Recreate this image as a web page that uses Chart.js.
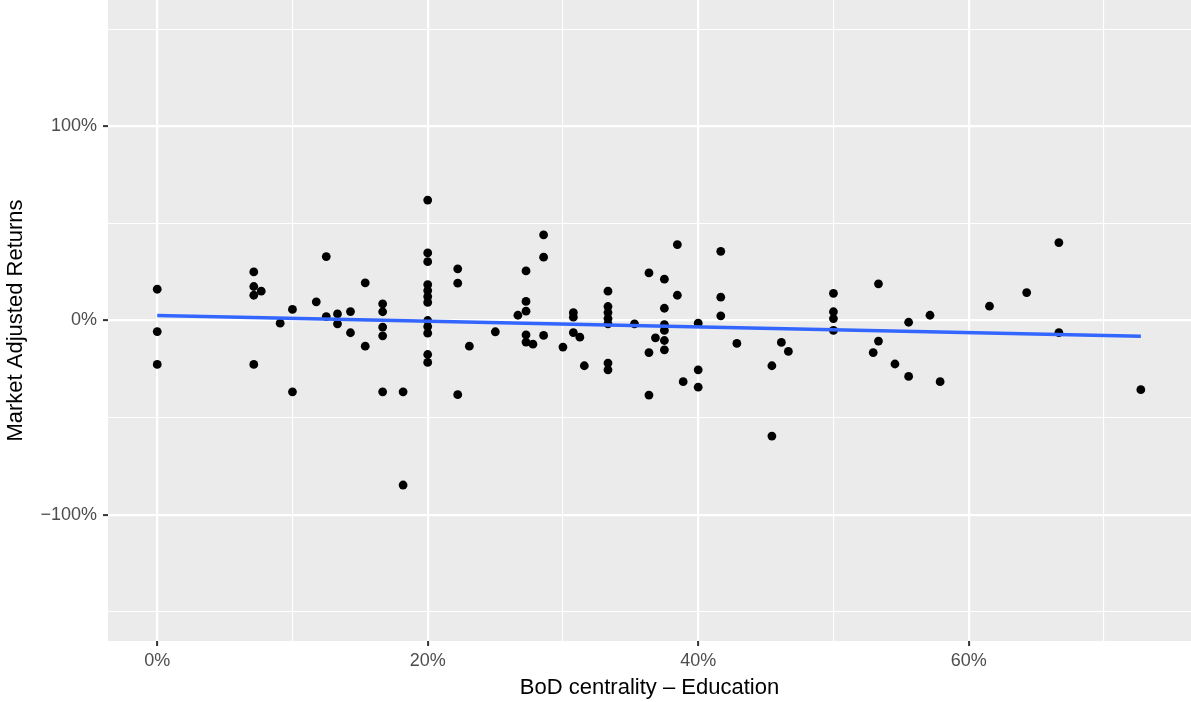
<!DOCTYPE html>
<html>
<head>
<meta charset="utf-8">
<script src="https://cdn.jsdelivr.net/npm/chart.js@4.4.1/dist/chart.umd.min.js"></script>
<style>
html, body { margin:0; padding:0; background:#fff; }
#wrap { width:1191px; height:702px; position:relative; }
</style>
</head>
<body>
<div id="wrap"><canvas id="bod_returns"></canvas></div>
<script>
// BoD centrality (Education), in %
var centrality = [
	0, 0, 0,
	7.14, 7.14, 7.14, 7.14, 7.69, 9.09, 10, 10, 11.76, 12.5, 12.5, 13.33, 13.33, 14.29, 14.29,
	15.38, 15.38, 16.67, 16.67, 16.67, 16.67, 16.67, 18.18, 18.18,
	20, 20, 20, 20, 20, 20, 20, 20, 20, 20, 20, 20,
	22.22, 22.22, 22.22, 23.08, 25, 26.67, 27.27, 27.27, 27.27, 27.27, 27.27, 27.78,
	28.57, 28.57, 28.57, 30, 30.77, 30.77, 30.77, 31.25, 31.58,
	33.33, 33.33, 33.33, 33.33, 33.33, 33.33, 33.33, 35.29, 36.36, 36.36, 36.36, 36.84,
	37.5, 37.5, 37.5, 37.5, 37.5, 37.5, 38.46, 38.46, 38.89, 40, 40, 40,
	41.67, 41.67, 41.67, 42.86, 45.45, 45.45, 46.15, 46.67,
	50, 50, 50, 50, 52.94, 53.33, 53.33, 54.55, 55.56, 55.56, 57.14, 57.89,
	61.54, 64.29, 66.67, 66.67, 72.73
];
// Market adjusted returns, in %
var returns = [
	16.1, -5.7, -22.6,
	25.0, 17.5, 13.0, -22.6, 15.1, -1.4, 5.7, -36.7, 9.6, 32.9, 2.0, 3.4, -1.7, 4.6, -6.3,
	19.4, -13.2, 8.6, 4.5, -3.4, -7.9, -36.7, -36.7, -84.7,
	62.0, 34.8, 30.3, 18.5, 15.4, 12.3, 9.3, 0, -3.1, -6.5, -17.5, -21.6,
	26.6, 19.2, -38.2, -13.2, -5.8, 2.7, 25.5, 9.8, 4.8, -7.4, -11.1, -12.2,
	44.1, 32.6, -7.7, -13.7, 4.0, 1.7, -6.2, -8.6, -23.3,
	15.1, 7.2, 4.1, 1.0, -1.7, -21.9, -25.4, -1.7, 24.5, -16.5, -38.4, -8.9,
	21.3, 6.3, -2.1, -5.1, -10.3, -15.1, 39.1, 13.0, -31.5, -1.4, -25.4, -34.3,
	35.6, 12.0, 2.4, -11.8, -23.3, -59.5, -11.3, -15.9,
	14.0, 4.5, 1.0, -5.1, -16.5, 18.9, -10.6, -22.4, -0.9, -28.8, 2.7, -31.5,
	7.4, 14.4, 40.1, -6.2, -35.6
];
// fitted lm line ends
var fitX = [0, 72.73];
var fitY = [2.6, -8.1];

var xTicks = [0, 10, 20, 30, 40, 50, 60, 70];
var yTicks = [-150, -100, -50, 0, 50, 100, 150];

function pct(v) {
	return (v < 0 ? '\u2212' : '') + Math.abs(v) + '%';
}

var points = [];
for (i = 0; i < centrality.length; i++) {
	points.push({x: centrality[i], y: returns[i]});
}
var fitLine = [];
for (i = 0; i < fitX.length; i++) {
	fitLine.push({x: fitX[i], y: fitY[i]});
}

var panelBg = {
	id: 'panelBg',
	beforeDraw: function(chart) {
		var a = chart.chartArea, c = chart.ctx;
		c.save();
		c.fillStyle = '#EBEBEB';
		c.fillRect(a.left, a.top, a.right - a.left, a.bottom - a.top);
		c.restore();
	}
};

Chart.defaults.font.family = '"Liberation Sans", Arial, sans-serif';

var ctx = document.getElementById('bod_returns');
var chart = new Chart(ctx, {
	type: 'scatter',
	data: {
		datasets: [{
			type: 'line',
			data: fitLine,
			borderColor: '#3366FF',
			borderWidth: 3.6,
			pointRadius: 0,
			fill: false,
			order: 0
		}, {
			data: points,
			backgroundColor: '#000000',
			pointRadius: 4.4,
			pointBorderWidth: 0,
			order: 1
		}]
	},
	options: {
		responsive: true,
		maintainAspectRatio: false,
		animation: false,
		layout: { padding: 0, autoPadding: false },
		plugins: { legend: { display: false }, tooltip: { enabled: false } },
		scales: {
			x: {
				type: 'linear',
				min: -3.64,
				max: 76.44,
				afterBuildTicks: function(s) { s.ticks = xTicks.map(function(v){ return {value: v}; }); },
				afterFit: function(s) {
					s.height = 61;
					s.paddingLeft = 0; s.paddingRight = 0;
					s.paddingTop = 0; s.paddingBottom = 0;
				},
				border: { display: false },
				grid: {
					color: '#FFFFFF',
					lineWidth: function(c) { return c.tick && c.tick.value % 20 === 0 ? 2.2 : 1.1; },
					tickLength: 5,
					tickColor: function(c) { return c.tick && c.tick.value % 20 === 0 ? '#333333' : 'rgba(0,0,0,0)'; },
					tickWidth: 2
				},
				ticks: {
					color: '#4D4D4D',
					font: { size: 18 },
					padding: 4,
					maxRotation: 0,
					callback: function(v) { return v % 20 === 0 ? pct(v) : ''; }
				},
				title: {
					display: true,
					text: 'BoD centrality \u2013 Education',
					color: '#000000',
					font: { size: 22 },
					padding: { top: 0, bottom: 1 }
				}
			},
			y: {
				type: 'linear',
				min: -165,
				max: 165,
				afterBuildTicks: function(s) { s.ticks = yTicks.map(function(v){ return {value: v}; }); },
				afterFit: function(s) {
					s.width = 108;
					s.paddingLeft = 0; s.paddingRight = 0;
					s.paddingTop = 0; s.paddingBottom = 0;
				},
				border: { display: false },
				grid: {
					color: '#FFFFFF',
					lineWidth: function(c) { return c.tick && c.tick.value % 100 === 0 ? 2.2 : 1.1; },
					tickLength: 5,
					tickColor: function(c) { return c.tick && c.tick.value % 100 === 0 ? '#333333' : 'rgba(0,0,0,0)'; },
					tickWidth: 2
				},
				ticks: {
					color: '#4D4D4D',
					font: { size: 18 },
					padding: 6,
					callback: function(v) { return v % 100 === 0 ? pct(v) : ''; }
				},
				title: {
					display: true,
					text: 'Market Adjusted Returns',
					color: '#000000',
					font: { size: 22 },
					padding: { top: 3, bottom: 0 }
				}
			}
		}
	},
	plugins: [panelBg]
});
</script>
</body>
</html>
